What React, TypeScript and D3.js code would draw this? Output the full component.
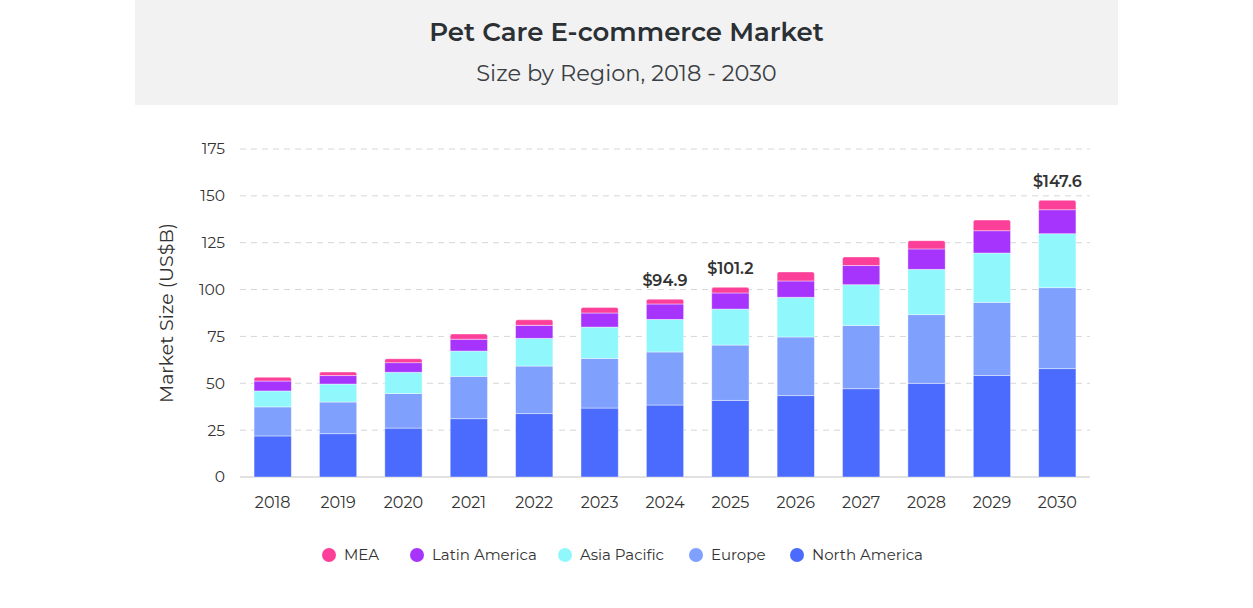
import React from 'react';
import * as d3 from 'd3';

const years = ['2018', '2019', '2020', '2021', '2022', '2023', '2024', '2025', '2026', '2027', '2028', '2029', '2030'];
const northAmerica = [21.9, 23.1, 26.1, 31.1, 33.8, 36.8, 38.4, 40.9, 43.4, 47.1, 50.0, 54.1, 57.8];
const europe = [15.5, 16.9, 18.4, 22.6, 25.4, 26.5, 28.3, 29.5, 31.3, 33.8, 36.6, 39.1, 43.2];
const asiaPacific = [8.5, 9.6, 11.4, 13.5, 14.8, 16.7, 17.4, 19.2, 21.2, 21.7, 24.2, 26.3, 28.8];
const latinAmerica = [5.3, 4.5, 5.1, 6.3, 6.9, 7.5, 8.2, 8.6, 8.7, 10.2, 10.9, 11.9, 12.8];
const mea = [2.0, 1.9, 2.1, 2.8, 3.0, 3.0, 2.6, 3.0, 4.8, 4.6, 4.4, 5.7, 5.0];
const yTicks = [0, 25, 50, 75, 100, 125, 150, 175];
const labeled = { '2024': '$94.9', '2025': '$101.2', '2030': '$147.6' };

const seriesKeys = ['North America', 'Europe', 'Asia Pacific', 'Latin America', 'MEA'];
const seriesColors = ['#4a6bfd', '#7fa1fd', '#90f8fd', '#a634fd', '#fc409a'];
const legendOrder = ['MEA', 'Latin America', 'Asia Pacific', 'Europe', 'North America'];

const W = 1253;
const H = 608;
const FONT = "Montserrat, 'Open Sans', sans-serif";

const App = () => {
  const rows = years.map((y, i) => ({
    year: y,
    'North America': northAmerica[i],
    Europe: europe[i],
    'Asia Pacific': asiaPacific[i],
    'Latin America': latinAmerica[i],
    MEA: mea[i],
  }));

  const x = d3.scaleBand().domain(years).range([240, 1090]).paddingInner(0.43).paddingOuter(0.215);
  const y = d3.scaleLinear().domain([0, 175]).range([477, 149]);
  const color = d3.scaleOrdinal().domain(seriesKeys).range(seriesColors);

  const stacked = d3.stack().keys(seriesKeys)(rows as any);

  const legendX = [329, 417, 565, 696, 797];

  return (
    <svg width={W} height={H} style={{ position: 'absolute', left: 0, top: 0 }} fontFamily={FONT}>
      <rect x={0} y={0} width={W} height={H} fill="#fff" />
      <rect x={135} y={0} width={983} height={105} fill="#f2f2f2" />
      <text x={626.5} y={41} textAnchor="middle" fontSize={26} fontWeight={600} fill="#2b3035">
        Pet Care E-commerce Market
      </text>
      <text x={626.5} y={81} textAnchor="middle" fontSize={22.5} fill="#3a3f44">
        Size by Region, 2018 - 2030
      </text>

      {yTicks.map((t) => (
        <g key={t}>
          {t > 0 && (
            <line x1={240} x2={1090} y1={y(t)} y2={y(t)} stroke="#d6d6d6" strokeDasharray="6,5" />
          )}
          <text x={225} y={y(t)} dy="0.35em" textAnchor="end" fontSize={15.5} fill="#333">
            {t}
          </text>
        </g>
      ))}
      <line x1={240} x2={1090} y1={y(0)} y2={y(0)} stroke="#d9d9d9" strokeWidth={1.5} />

      <text
        transform={`translate(166, ${y(87.5)}) rotate(-90)`}
        textAnchor="middle"
        dy="0.35em"
        fontSize={19}
        fill="#333"
      >
        Market Size (US$B)
      </text>

      {stacked.map((s, si) => (
        <g key={s.key} fill={color(s.key) as string}>
          {s.map((d, i) => {
            const x0 = x(years[i]) as number;
            const bw = x.bandwidth();
            const top = y(d[1]);
            const h = y(d[0]) - y(d[1]);
            if (si === stacked.length - 1) {
              const r = 2;
              const path = `M${x0},${top + h} V${top + r} Q${x0},${top} ${x0 + r},${top} H${x0 + bw - r} Q${x0 + bw},${top} ${x0 + bw},${top + r} V${top + h} Z`;
              return <path key={i} d={path} stroke="rgba(255,255,255,0.5)" strokeWidth={0.8} />;
            }
            return (
              <rect key={i} x={x0} y={top} width={bw} height={h} stroke="rgba(255,255,255,0.5)" strokeWidth={0.8} />
            );
          })}
        </g>
      ))}

      {years.map((yr) => (
        <text key={yr} x={(x(yr) as number) + x.bandwidth() / 2} y={502} dy="0.35em" textAnchor="middle" fontSize={16} fill="#333">
          {yr}
        </text>
      ))}

      {years.map((yr, i) => {
        const lbl = (labeled as any)[yr];
        if (!lbl) return null;
        const total = northAmerica[i] + europe[i] + asiaPacific[i] + latinAmerica[i] + mea[i];
        return (
          <text key={yr} x={(x(yr) as number) + x.bandwidth() / 2} y={y(total) - 13} textAnchor="middle" fontSize={16} fontWeight={600} fill="#333">
            {lbl}
          </text>
        );
      })}

      {legendOrder.map((k, i) => (
        <g key={k} transform={`translate(${legendX[i]}, 555)`}>
          <circle r={7} fill={color(k) as string} />
          <text x={15} dy="0.35em" fontSize={15} fill="#333">
            {k}
          </text>
        </g>
      ))}
    </svg>
  );
};

export default App;
